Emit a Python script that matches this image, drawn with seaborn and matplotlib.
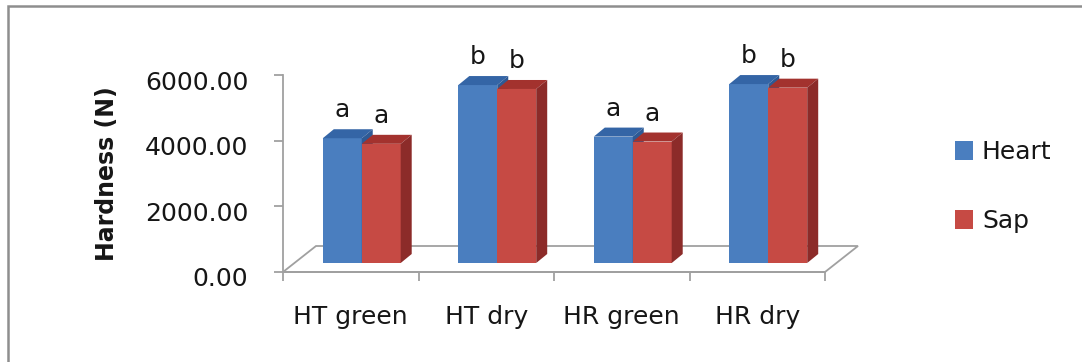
import matplotlib
matplotlib.use("Agg")
import matplotlib.pyplot as plt
import matplotlib.transforms as mtransforms
import pandas as pd
import seaborn as sns
from matplotlib.patches import Polygon, Rectangle

# ---- data -------------------------------------------------------------
categories = ["HT green", "HT dry", "HR green", "HR dry"]
series_names = ["Heart", "Sap"]
heart_values = [3800, 5420, 3850, 5450]
sap_values = [3630, 5300, 3700, 5340]
heart_letters = ["a", "b", "a", "b"]
sap_letters = ["a", "b", "a", "b"]
y_ticks = [0, 2000, 4000, 6000]
y_tick_labels = ["0.00", "2000.00", "4000.00", "6000.00"]
y_label = "Hardness (N)"

df = pd.DataFrame({
    "category": categories * 2,
    "part": [series_names[0]] * len(categories) + [series_names[1]] * len(categories),
    "hardness": heart_values + sap_values,
})
letters_by_bar = [l for pair in zip(heart_letters, sap_letters) for l in pair]

# ---- style ------------------------------------------------------------
W, H, DPI = 1082, 362, 100
front_face = {"Heart": "#4a7ebf", "Sap": "#c64a44"}
top_face = {"Heart": "#3465a6", "Sap": "#a3322e"}
side_face = {"Heart": "#2e5a95", "Sap": "#8c2b29"}
grey = "#a0a0a0"
text_color = "#161616"

# pixel geometry of the pseudo-3D box
left_px, right_px, base_px, top_px = 283, 825, 272, 75
floor_depth = (33, 26)      # depth of the floor (px right, px up)
plane_shift = (11, 9)       # bars stand this far back on the floor
bar_depth = (11, 9)         # thickness of each column

sns.set_theme(style="white")
plt.rcParams["font.family"] = ["DejaVu Sans"]

fig = plt.figure(figsize=(W / DPI, H / DPI), dpi=DPI)
fig.patch.set_facecolor("white")
ax = fig.add_axes([left_px / W, 1 - base_px / H,
                   (right_px - left_px) / W, (base_px - top_px) / H])
ax.set_facecolor("none")

sns.barplot(data=df, x="category", y="hardness", hue="part",
            order=categories, hue_order=series_names, palette=front_face,
            width=0.575, saturation=1, errorbar=None, linewidth=0, ax=ax)
bars = sorted([p for p in ax.patches if isinstance(p, Rectangle) and p.get_width() > 0],
              key=lambda p: p.get_x())

ax.set_xlim(-0.5, len(categories) - 0.5)
ax.set_ylim(y_ticks[0], y_ticks[-1])

# data units per pixel
ux = (len(categories)) / (right_px - left_px)
uy = (y_ticks[-1] - y_ticks[0]) / (base_px - top_px)

# floor of the chart
x_lo, x_hi = -0.5, len(categories) - 0.5
floor = Polygon([(x_lo, 0), (x_hi, 0),
                 (x_hi + floor_depth[0] * ux, floor_depth[1] * uy),
                 (x_lo + floor_depth[0] * ux, floor_depth[1] * uy)],
                closed=True, facecolor="white", edgecolor=grey, lw=1.3,
                zorder=1, clip_on=False)
ax.add_patch(floor)

# give the columns depth: shift front faces back and add top/side faces
for rank, bar in enumerate(bars):
    name = series_names[rank % 2]
    x0 = bar.get_x() + plane_shift[0] * ux
    w = bar.get_width()
    h = bar.get_height()
    y0 = plane_shift[1] * uy
    y1 = y0 + h
    x1 = x0 + w
    ddx, ddy = bar_depth[0] * ux, bar_depth[1] * uy
    z = 3 + rank * 0.1
    bar.set_x(x0)
    bar.set_y(y0)
    bar.set_zorder(z)
    bar.set_clip_on(False)
    ax.add_patch(Polygon([(x0, y1), (x1, y1), (x1 + ddx, y1 + ddy), (x0 + ddx, y1 + ddy)],
                         closed=True, facecolor=top_face[name], lw=0,
                         zorder=z, clip_on=False))
    ax.add_patch(Polygon([(x1, y0), (x1 + ddx, y0 + ddy), (x1 + ddx, y1 + ddy), (x1, y1)],
                         closed=True, facecolor=side_face[name], lw=0,
                         zorder=z, clip_on=False))
    ax.annotate(letters_by_bar[rank], (x0 + w / 2, y1), xytext=(0, 21 * 72 / DPI),
                textcoords="offset points", ha="center", va="baseline",
                fontsize=18, color=text_color, zorder=10, annotation_clip=False)

# axes, ticks and labels
for side in ("top", "right"):
    ax.spines[side].set_visible(False)
for side in ("left", "bottom"):
    ax.spines[side].set_visible(True)
    ax.spines[side].set_color(grey)
    ax.spines[side].set_linewidth(1.3)
    ax.spines[side].set_zorder(2)

ax.set_yticks(y_ticks, y_tick_labels)
ax.tick_params(axis="y", left=True, length=6.5, width=1.3, color=grey,
               direction="out", pad=18.5, labelsize=18, labelcolor=text_color)
for lab in ax.get_yticklabels():
    lab.set_transform(lab.get_transform() +
                      mtransforms.ScaledTranslation(0, -5 / DPI, fig.dpi_scale_trans))

boundaries = [i - 0.5 for i in range(len(categories) + 1)]
ax.set_xticks(boundaries, [""] * len(boundaries))
ax.set_xticks(range(len(categories)), categories, minor=True)
ax.tick_params(axis="x", which="major", bottom=True, length=6.5, width=1.3,
               color=grey, direction="out")
ax.tick_params(axis="x", which="minor", bottom=True, length=0, pad=24,
               labelsize=18, labelcolor=text_color)

ax.set_xlabel("")
ax.set_ylabel(y_label, fontsize=17, fontweight="bold", color=text_color)
ax.yaxis.set_label_coords((107 - left_px) / (right_px - left_px),
                          (base_px - 174) / (base_px - top_px))
ax.yaxis.label.set_verticalalignment("center")

sns.move_legend(ax, "upper left", bbox_to_anchor=(955 / W, 1 - 140 / H),
                bbox_transform=fig.transFigure, frameon=False, title=None,
                fontsize=18, borderpad=0, borderaxespad=0, handlelength=0.72,
                handleheight=0.8, handletextpad=0.36, labelspacing=1.8)
for t in ax.get_legend().get_texts():
    t.set_color(text_color)

# outer chart border
fig.add_artist(Rectangle((8 / W, -0.2), 1.5, 1 - 6 / H + 0.2,
                         transform=fig.transFigure, fill=False,
                         edgecolor="#8e8e8e", lw=1.8))

fig.savefig("out.png", dpi=DPI)
